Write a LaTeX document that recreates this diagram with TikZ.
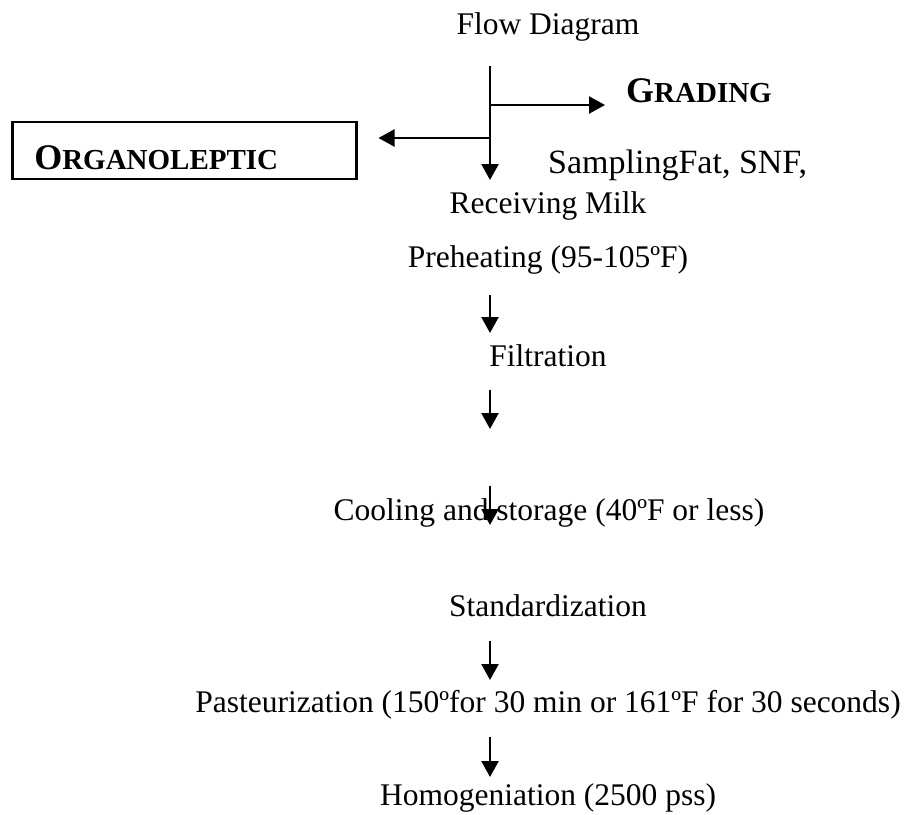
\documentclass[tikz,border=0pt]{standalone}
\usepackage{fontspec}
\setmainfont{Liberation Serif}
\usepackage{tikz}
\usetikzlibrary{arrows.meta}

\tikzset{
  stage/.style={anchor=base, inner sep=0pt, font=\fontsize{31.5}{36}\selectfont},
  flow/.style={line width=2.4pt, -{Triangle[length=16pt,width=17pt]}},
  orgbox/.style={draw, line width=2.5pt, anchor=base west, text width=300pt, align=left,
    inner xsep=22pt, inner ysep=0pt, text height=47pt, text depth=10pt}
}
\newcommand{\bigsc}[2]{{\bfseries\fontsize{36}{40}\selectfont #1\fontsize{29}{32}\selectfont #2}}

\begin{document}
\begin{tikzpicture}[x=1pt, y=-1pt]
\useasboundingbox (0,0) rectangle (907,814);

\path (548, 34) node[stage] (title) {Flow Diagram}
      (626, 102) node[anchor=base west, inner sep=0pt] (grading) {\bigsc{G}{RADING}}
      (11, 169) node[orgbox] (organo) {\bigsc{O}{RGANOLEPTIC}}
      (548, 173) node[anchor=base west, inner sep=0pt, font=\fontsize{34}{40}\selectfont] (sampling) {SamplingFat, SNF,}
      (548, 213) node[stage] (recv) {Receiving Milk}
      (548, 267) node[stage] (preheat) {Preheating (95-105ºF)}
      (548, 366) node[stage] (filtr) {Filtration}
      (549, 520) node[stage] (cool) {Cooling and storage (40ºF or less)}
      (548, 616) node[stage] (stand) {Standardization}
      (548, 712) node[stage] (past) {Pasteurization (150ºfor 30 min or 161ºF for 30 seconds)}
      (548, 805) node[stage] (homog) {Homogeniation (2500 pss)};

% branching at the top
\coordinate (stemtop) at (490, 66);
\coordinate (stemtip) at (490, 180);
\coordinate (jr) at (490, 105);
\coordinate (jl) at (490, 138);
\draw[flow] (stemtop) -- (stemtip);
\draw[flow, shorten >=21pt] (jr) -- (jr -| grading.west);
\draw[flow, shorten >=21pt] (jl) -- (jl -| organo.east);

% arrows between the stages
\foreach \i/\a/\b in {1/295/333, 2/390/429, 3/486/525, 4/641/680, 5/737/777} {
  \coordinate (s\i) at (490, \a);
  \coordinate (e\i) at (490, \b);
  \draw[flow] (s\i) -- (e\i);
}

\end{tikzpicture}
\end{document}
